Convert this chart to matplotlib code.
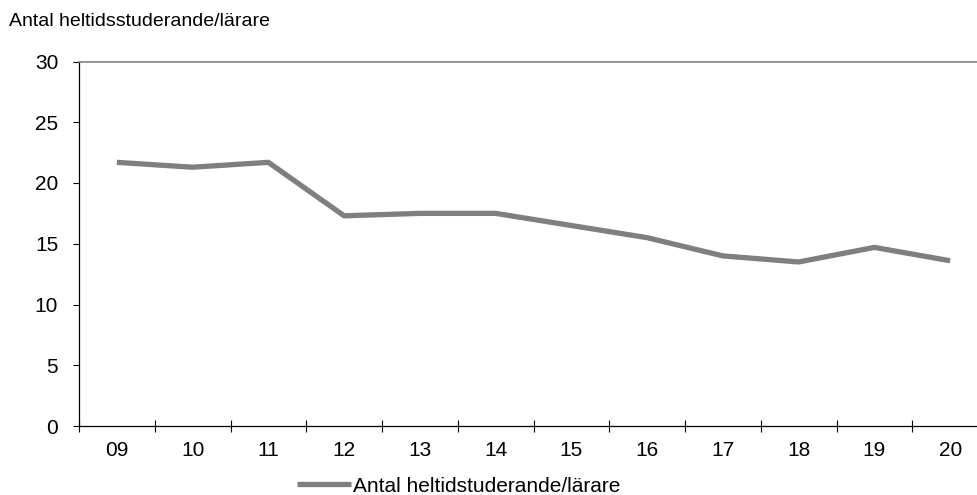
import matplotlib.pyplot as plt

plt.rcParams['font.family'] = ['Liberation Sans', 'DejaVu Sans']

years = ['09', '10', '11', '12', '13', '14', '15', '16', '17', '18', '19', '20']
ratio = [21.7, 21.3, 21.7, 17.3, 17.5, 17.5, 16.5, 15.5, 14.0, 13.5, 14.7, 13.6]

fig = plt.figure(figsize=(9.77, 4.95), dpi=100)
ax = fig.add_axes([79 / 977, 1 - 426 / 495, 909 / 977, 364.5 / 495])

x = list(range(len(years)))
ax.plot(x, ratio, color='#7f7f7f', linewidth=3.8, solid_capstyle='butt',
        label='Antal heltidstuderande/lärare')

ax.set_xlim(-0.5, len(years) - 0.5)
ax.set_ylim(0, 30)
ax.set_yticks(range(0, 31, 5))

# etiketter mitt i kategorin, streck mellan kategorierna
ax.set_xticks(x)
ax.set_xticklabels(years)
ax.set_xticks([i - 0.5 for i in range(len(years) + 1)], minor=True)
ax.tick_params(axis='x', which='major', length=0, pad=11, labelsize=15)
ax.tick_params(axis='x', which='minor', direction='inout', length=9, width=0.8)
ax.tick_params(axis='y', direction='out', length=4, width=0.8, pad=11, labelsize=15)

ax.spines['right'].set_visible(False)
ax.spines['top'].set_color('#808080')
ax.spines['top'].set_linewidth(1.2)
ax.spines['left'].set_linewidth(0.9)
ax.spines['bottom'].set_linewidth(0.9)

fig.text(9 / 977, 1 - 22 / 495, 'Antal heltidsstuderande/lärare', fontsize=14,
         va='center', ha='left')

fig.legend(loc='center', bbox_to_anchor=(459 / 977, 1 - 486 / 495), frameon=False,
           fontsize=15, handlelength=2.6, handletextpad=0.1, borderpad=0)

fig.savefig('out.png', dpi=100)
